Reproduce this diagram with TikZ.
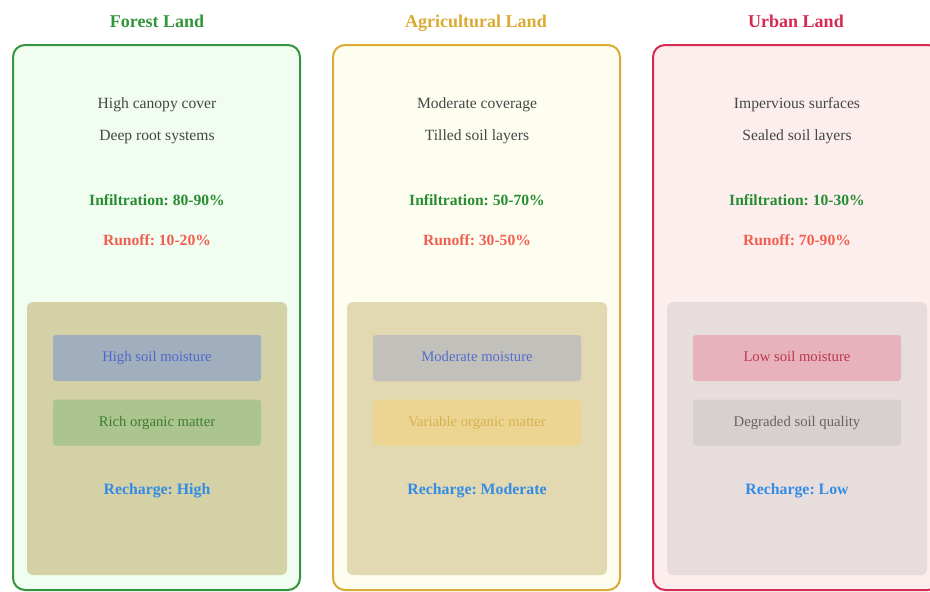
\documentclass[tikz,border=0pt]{standalone}
\usepackage{fontspec}
\setmainfont{Liberation Serif}
\usetikzlibrary{positioning}
\definecolor{forestgreen}{RGB}{52,150,60}
\definecolor{forestfill}{RGB}{240,253,240}
\definecolor{agrigold}{RGB}{218,170,50}
\definecolor{agrifill}{RGB}{254,254,240}
\definecolor{urbanred}{RGB}{215,40,80}
\definecolor{urbanfill}{RGB}{253,238,238}
\definecolor{infilgreen}{RGB}{40,140,50}
\definecolor{runoffred}{RGB}{240,95,80}
\definecolor{rechargeblue}{RGB}{50,140,230}
\definecolor{soilforest}{RGB}{212,209,166}
\definecolor{soilagri}{RGB}{226,216,178}
\definecolor{soilurban}{RGB}{231,221,221}
\definecolor{textgray}{RGB}{70,70,70}
\tikzstyle{TitleNode}=[font=\fontsize{18}{21}\selectfont\bfseries, text height=12pt, text depth=4pt]
\tikzstyle{PanelNode}=[rectangle, rounded corners=12pt, line width=2pt, minimum width=287pt, minimum height=545pt]
\tikzstyle{SoilNode}=[rectangle, rounded corners=6pt, minimum width=260pt, minimum height=273pt]
\tikzstyle{SoilBox}=[rectangle, rounded corners=3pt, minimum width=208pt, minimum height=46pt, font=\fontsize{14.7}{17}\selectfont, text height=10pt, text depth=3pt]
\tikzstyle{NoteText}=[font=\fontsize{15.6}{18}\selectfont, text=textgray, text height=11pt, text depth=3pt]
\tikzstyle{InfilText}=[font=\fontsize{15.6}{18}\selectfont\bfseries, text=infilgreen]
\tikzstyle{RunoffText}=[font=\fontsize{15.6}{18}\selectfont\bfseries, text=runoffred]
\tikzstyle{RechargeText}=[font=\fontsize{15.8}{18}\selectfont\bfseries, text=rechargeblue, text height=11pt, text depth=3pt]
\begin{document}
\frenchspacing
\begin{tikzpicture}[x=1pt, y=-1pt]
\useasboundingbox (0,0) rectangle (930,592);
\clip (0,0) rectangle (930,592);
\fill[white] (0,0) rectangle (930,592);

\node[TitleNode, text=forestgreen](forestTitle) at (157,23.5) {Forest Land};
\node[PanelNode, draw=forestgreen, fill=forestfill](forest) at (156.5,317.5) {};
\node[NoteText](forestCover) at (157,104) {High canopy cover};
\node[NoteText](forestRoot) at (157,136) {Deep root systems};
\node[InfilText](forestInfil) at (157,200) {Infiltration: 80-90\%};
\node[RunoffText](forestRunoff) at (157,240) {Runoff: 10-20\%};
\node[SoilNode, fill=soilforest](forestSoil) at (157,438.5) {};
\node[SoilBox, fill={rgb,255:red,160;green,174;blue,190}, text={rgb,255:red,80;green,105;blue,200}](forestMoist) at (157,358) {High soil moisture};
\node[SoilBox, fill={rgb,255:red,172;green,196;blue,142}, text={rgb,255:red,60;green,125;blue,50}](forestOrganic) at (157,422.5) {Rich organic matter};
\node[RechargeText](forestRecharge) at (157,490) {Recharge: High};

\node[TitleNode, text=agrigold](agriTitle) at (476,23.5) {Agricultural Land};
\node[PanelNode, draw=agrigold, fill=agrifill](agri) at (476.5,317.5) {};
\node[NoteText](agriCover) at (477,104) {Moderate coverage};
\node[NoteText](agriTilled) at (477,136) {Tilled soil layers};
\node[InfilText](agriInfil) at (477,200) {Infiltration: 50-70\%};
\node[RunoffText](agriRunoff) at (477,240) {Runoff: 30-50\%};
\node[SoilNode, fill=soilagri](agriSoil) at (477,438.5) {};
\node[SoilBox, fill={rgb,255:red,194;green,192;blue,186}, text={rgb,255:red,85;green,110;blue,205}](agriMoist) at (477,358) {Moderate moisture};
\node[SoilBox, fill={rgb,255:red,236;green,212;blue,145}, text={rgb,255:red,215;green,178;blue,80}](agriOrganic) at (477,422.5) {Variable organic matter};
\node[RechargeText](agriRecharge) at (477,490) {Recharge: Moderate};

\node[TitleNode, text=urbanred](urbanTitle) at (796,23.5) {Urban Land};
\node[PanelNode, draw=urbanred, fill=urbanfill](urban) at (796.5,317.5) {};
\node[NoteText](urbanCover) at (797,104) {Impervious surfaces};
\node[NoteText](urbanSealed) at (797,136) {Sealed soil layers};
\node[InfilText](urbanInfil) at (797,200) {Infiltration: 10-30\%};
\node[RunoffText](urbanRunoff) at (797,240) {Runoff: 70-90\%};
\node[SoilNode, fill=soilurban](urbanSoil) at (797,438.5) {};
\node[SoilBox, fill={rgb,255:red,232;green,178;blue,188}, text={rgb,255:red,185;green,55;blue,80}](urbanMoist) at (797,358) {Low soil moisture};
\node[SoilBox, fill={rgb,255:red,216;green,207;blue,207}, text={rgb,255:red,100;green,100;blue,100}](urbanQuality) at (797,422.5) {Degraded soil quality};
\node[RechargeText](urbanRecharge) at (797,490) {Recharge: Low};
\end{tikzpicture}
\end{document}
